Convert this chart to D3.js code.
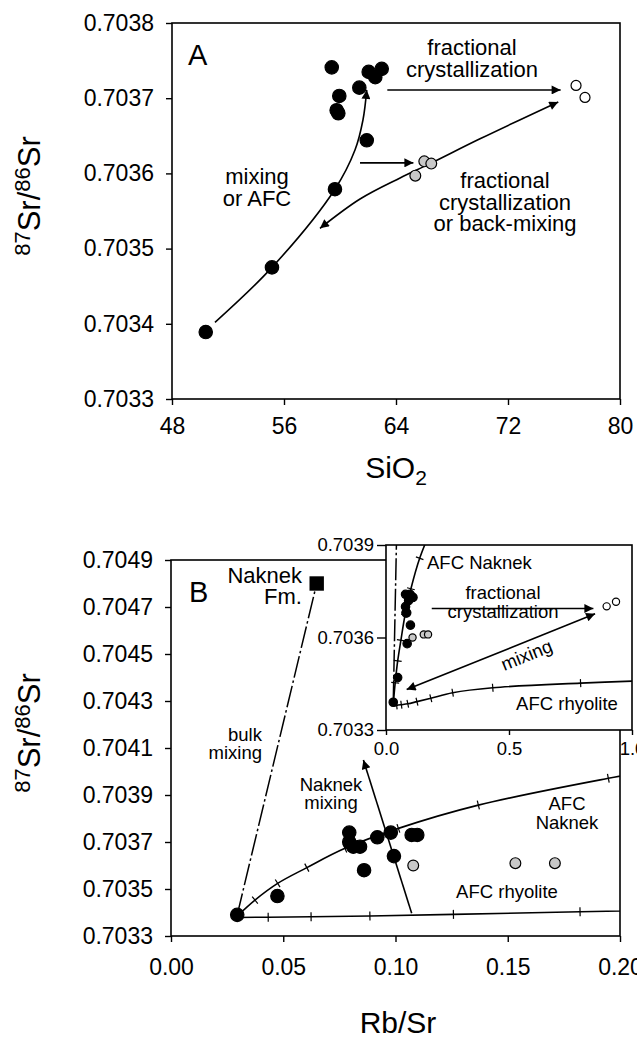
<!DOCTYPE html>
<html>
<head>
<meta charset="utf-8">
<script src="https://cdn.jsdelivr.net/npm/d3@7"></script>
<style>
body { margin: 0; background: #fff; }
svg { font-family: "Liberation Sans", Arial, Helvetica, sans-serif; }
</style>
</head>
<body>
<div class="chart"></div>
<script>
// PANEL A: SiO2 vs 87Sr/86Sr
const aBasalt = [
	[50.41, 0.703389], [55.14, 0.703475], [59.64, 0.703579], [61.91, 0.703644],
	[59.76, 0.703684], [59.88, 0.703680], [59.95, 0.703703], [59.41, 0.703741],
	[61.38, 0.703714], [62.05, 0.703735], [62.52, 0.703728], [62.98, 0.703739]
];
const aDacite = [[65.38, 0.703597], [66.02, 0.703616], [66.52, 0.703613]];
const aRhyolite = [[76.86, 0.703717], [77.50, 0.703701]];
const aMixCurve = [
	[51.07, 0.703402], [55.14, 0.703475], [59.64, 0.703579],
	[61.07, 0.703631], [61.64, 0.703671], [61.91, 0.703711]
];
const aBackCurve = [
	[58.57, 0.703527], [61.43, 0.703566], [64.29, 0.703594],
	[66.43, 0.703613], [70.00, 0.703646], [75.59, 0.703695]
];
const aFcArrow = [[63.38, 0.703711], [75.76, 0.703711]];
const aShortArrow = [[61.43, 0.703614], [65.24, 0.703614]];
const aXTicks = [48, 56, 64, 72, 80];
const aYTicks = [0.7033, 0.7034, 0.7035, 0.7036, 0.7037, 0.7038];

// PANEL B: Rb/Sr vs 87Sr/86Sr
const bBasalt = [
	[0.0295, 0.70339], [0.0474, 0.70347], [0.0794, 0.70374], [0.0794, 0.70370],
	[0.0812, 0.70368], [0.0842, 0.70368], [0.0919, 0.70372], [0.0979, 0.70374],
	[0.0860, 0.70358], [0.0993, 0.70364], [0.1072, 0.70373], [0.1097, 0.70373]
];
const bDacite = [[0.1079, 0.70360], [0.1534, 0.70361], [0.1710, 0.70361]];
const bRhyolite = [[0.897, 0.703701], [0.935, 0.703716]];
const naknekFm = [[0.0649, 0.70480]];
const bulkMixing = [[0.0295, 0.70339], [0.0649, 0.70480]];
const afcNaknek = [
	[0.0295, 0.703385], [0.0374, 0.703453], [0.0475, 0.703524], [0.0605, 0.703591],
	[0.0775, 0.703673], [0.1013, 0.703758], [0.1369, 0.703857], [0.1948, 0.703971],
	[0.2300, 0.704030]
];
const afcRhyolite = [
	[0.0295, 0.703379], [0.0433, 0.703380], [0.0624, 0.703382], [0.0886, 0.703385],
	[0.1258, 0.703392], [0.1822, 0.703403], [0.271, 0.703421], [0.434, 0.703437],
	[0.791, 0.703452], [1.05, 0.703460]
];
const naknekMixing = [[0.1072, 0.703397], [0.0857, 0.704049]];
const insetFcArrow = [[0.186, 0.703694], [0.843, 0.703694]];
const insetMixArrow = [[0.084, 0.703431], [0.850, 0.703677]];
const bXTicks = [0, 0.05, 0.10, 0.15, 0.20];
const bYTicks = [0.7033, 0.7035, 0.7037, 0.7039, 0.7041, 0.7043, 0.7045, 0.7047, 0.7049];
const insetXTicks = [0, 0.5, 1.0];
const insetYTicks = [0.7033, 0.7036, 0.7039];

const W = 637, H = 1038;
const svg = d3.select('.chart')
	.append('svg')
		.attr('width', W)
		.attr('height', H);

svg.append('rect').attr('width', W).attr('height', H).attr('fill', '#fff');

const defs = svg.append('defs');
defs.append('marker')
	.attr('id', 'arrow')
	.attr('viewBox', '0 0 10 10')
	.attr('refX', 10).attr('refY', 5)
	.attr('markerUnits', 'userSpaceOnUse')
	.attr('markerWidth', 13).attr('markerHeight', 9)
	.attr('orient', 'auto-start-reverse')
	.append('path')
		.attr('d', 'M0,0 L10,5 L0,10 z')
		.attr('fill', '#000');

const curve = d3.curveCatmullRom.alpha(0.5);

function frame(g, x0, y0, w, h) {
	g.append('rect')
		.attr('x', x0).attr('y', y0)
		.attr('width', w).attr('height', h)
		.attr('fill', 'none')
		.attr('stroke', '#000')
		.attr('stroke-width', 1.6);
}

function styleAxis(sel, size) {
	sel.select('.domain').remove();
	sel.selectAll('line').attr('stroke', '#000').attr('stroke-width', 1.4);
	sel.selectAll('text')
		.attr('fill', '#000')
		.style('font-size', size + 'px')
		.style('font-family', '"Liberation Sans", Arial, sans-serif');
}

// ticks across a curve, drawn perpendicular at every inner point
function curveTicks(g, pts, x, y, len) {
	for (let i = 1; i < pts.length - 1; i++) {
		const p0 = [x(pts[i - 1][0]), y(pts[i - 1][1])];
		const p1 = [x(pts[i + 1][0]), y(pts[i + 1][1])];
		const c = [x(pts[i][0]), y(pts[i][1])];
		let dx = p1[0] - p0[0], dy = p1[1] - p0[1];
		const n = Math.hypot(dx, dy);
		const nx = -dy / n * len / 2, ny = dx / n * len / 2;
		g.append('line')
			.attr('x1', c[0] - nx).attr('y1', c[1] - ny)
			.attr('x2', c[0] + nx).attr('y2', c[1] + ny)
			.attr('stroke', '#000').attr('stroke-width', 1.2);
	}
}

function drawPath(g, pts, x, y, opts = {}) {
	const line = d3.line().x(d => x(d[0])).y(d => y(d[1])).curve(curve);
	const p = g.append('path')
		.attr('d', line(pts))
		.attr('fill', 'none')
		.attr('stroke', '#000')
		.attr('stroke-width', opts.width || 1.6);
	if (opts.dash) p.attr('stroke-dasharray', opts.dash);
	if (opts.end) p.attr('marker-end', 'url(#arrow)');
	if (opts.start) p.attr('marker-start', 'url(#arrow)');
	return p;
}

function dots(g, data, x, y, r, fill) {
	g.selectAll(null)
		.data(data)
		.enter()
		.append('circle')
			.attr('cx', d => x(d[0]))
			.attr('cy', d => y(d[1]))
			.attr('r', r)
			.attr('fill', fill)
			.attr('stroke', '#000')
			.attr('stroke-width', 1.2);
}

// one <text> per line so the lines do not share a box
function label(g, lines, x, yBase, size, anchor = 'middle', step) {
	lines.forEach((s, i) => {
		g.append('text')
			.attr('x', x)
			.attr('y', yBase + i * (step || size))
			.attr('text-anchor', anchor)
			.style('font-size', size + 'px')
			.attr('fill', '#000')
			.text(s);
	});
}

function srTitle(x, cy) {
	const t = svg.append('text')
		.attr('transform', `translate(${x},${cy}) rotate(-90)`)
		.attr('text-anchor', 'middle')
		.attr('fill', '#000')
		.style('font-size', '31px');
	t.append('tspan').text('87').style('font-size', '22px').attr('dy', -10);
	t.append('tspan').text('Sr/').attr('dy', 10);
	t.append('tspan').text('86').style('font-size', '22px').attr('dy', -10);
	t.append('tspan').text('Sr').attr('dy', 10);
}

// ---------------- PANEL A ----------------
const A = { left: 172, right: 620, top: 23, bottom: 399 };
const xA = d3.scaleLinear().domain([48, 80]).range([A.left, A.right]);
const yA = d3.scaleLinear().domain([0.7033, 0.7038]).range([A.bottom, A.top]);
const gA = svg.append('g');

gA.append('g')
	.attr('transform', `translate(${A.left},0)`)
	.call(d3.axisLeft(yA).tickValues(aYTicks).tickFormat(d3.format('.4f')).tickSizeOuter(0).tickSize(6).tickPadding(12))
	.call(s => styleAxis(s, 23));
gA.append('g')
	.attr('transform', `translate(0,${A.bottom})`)
	.call(d3.axisBottom(xA).tickValues(aXTicks).tickFormat(d3.format('d')).tickSizeOuter(0).tickSize(6).tickPadding(13))
	.call(s => styleAxis(s, 23));
frame(gA, A.left, A.top, A.right - A.left, A.bottom - A.top);

drawPath(gA, aMixCurve, xA, yA, { end: true });
drawPath(gA, aBackCurve, xA, yA, { end: true, start: true });
drawPath(gA, aFcArrow, xA, yA, { end: true });
drawPath(gA, aShortArrow, xA, yA, { end: true });

dots(gA, aBasalt, xA, yA, 6.7, '#000');
dots(gA, aDacite, xA, yA, 5.4, '#c8c8c8');
dots(gA, aRhyolite, xA, yA, 5, '#fff');

label(gA, ['A'], 188, 65, 29, 'start');
label(gA, ['fractional', 'crystallization'], 472, 55, 22, 'middle', 22);
label(gA, ['mixing', 'or AFC'], 257, 184, 22, 'middle', 22);
label(gA, ['fractional', 'crystallization', 'or back-mixing'], 505, 188, 22, 'middle', 21.5);

const sio2 = svg.append('text')
	.attr('x', 396).attr('y', 478)
	.attr('text-anchor', 'middle')
	.style('font-size', '30px');
sio2.append('tspan').text('SiO');
sio2.append('tspan').text('2').style('font-size', '21px').attr('dy', 7);
srTitle(40, 196);

// ---------------- PANEL B ----------------
const B = { left: 171, right: 620, top: 560, bottom: 936 };
const xB = d3.scaleLinear().domain([0, 0.2]).range([B.left, B.right]);
const yB = d3.scaleLinear().domain([0.7033, 0.7049]).range([B.bottom, B.top]);
const gB = svg.append('g');

defs.append('clipPath').attr('id', 'clipB')
	.append('rect').attr('x', B.left).attr('y', B.top).attr('width', B.right - B.left).attr('height', B.bottom - B.top);

gB.append('g')
	.attr('transform', `translate(${B.left},0)`)
	.call(d3.axisLeft(yB).tickValues(bYTicks).tickFormat(d3.format('.4f')).tickSizeOuter(0).tickSize(6).tickPadding(12))
	.call(s => styleAxis(s, 23));
gB.append('g')
	.attr('transform', `translate(0,${B.bottom})`)
	.call(d3.axisBottom(xB).tickValues(bXTicks).tickFormat(d3.format('.2f')).tickSizeOuter(0).tickSize(6).tickPadding(17))
	.call(s => styleAxis(s, 23));
frame(gB, B.left, B.top, B.right - B.left, B.bottom - B.top);

const gBc = gB.append('g').attr('clip-path', 'url(#clipB)');
drawPath(gBc, bulkMixing, xB, yB, { dash: '22,3,2.5,3', width: 1.5 });
drawPath(gBc, afcNaknek, xB, yB);
curveTicks(gBc, afcNaknek, xB, yB, 9);
drawPath(gBc, afcRhyolite, xB, yB);
curveTicks(gBc, afcRhyolite, xB, yB, 9);
drawPath(gB, naknekMixing, xB, yB, { end: true });

dots(gB, bBasalt, xB, yB, 6.7, '#000');
dots(gB, bDacite, xB, yB, 5.4, '#c8c8c8');
gB.selectAll(null)
	.data(naknekFm)
	.enter()
	.append('rect')
		.attr('x', d => xB(d[0]) - 7.2)
		.attr('y', d => yB(d[1]) - 7.2)
		.attr('width', 14.4).attr('height', 14.4)
		.attr('fill', '#000');

label(gB, ['B'], 189, 602, 29, 'start');
label(gB, ['Naknek', 'Fm.'], 302, 583, 22, 'end', 20.5);
label(gB, ['bulk', 'mixing'], 262, 741, 18.5, 'end', 17.5);
label(gB, ['Naknek', 'mixing'], 331, 791, 18.5, 'middle', 18);
label(gB, ['AFC', 'Naknek'], 567, 810, 18.5, 'middle', 18.5);
label(gB, ['AFC rhyolite'], 507, 898, 18.5, 'middle');

svg.append('text')
	.attr('x', 398).attr('y', 1033)
	.attr('text-anchor', 'middle')
	.style('font-size', '30px')
	.text('Rb/Sr');
srTitle(40, 733);

// ---------------- INSET ----------------
const I = { left: 386, right: 632, top: 545, bottom: 730 };
const xI = d3.scaleLinear().domain([0, 1]).range([I.left, I.right]);
const yI = d3.scaleLinear().domain([0.7033, 0.7039]).range([I.bottom, I.top]);
const gI = svg.append('g');

defs.append('clipPath').attr('id', 'clipI')
	.append('rect').attr('x', I.left).attr('y', I.top).attr('width', I.right - I.left).attr('height', I.bottom - I.top);

gI.append('rect')
	.attr('x', I.left).attr('y', I.top)
	.attr('width', I.right - I.left).attr('height', I.bottom - I.top)
	.attr('fill', '#fff');

gI.append('g')
	.attr('transform', `translate(${I.left},0)`)
	.call(d3.axisLeft(yI).tickValues(insetYTicks).tickFormat(d3.format('.4f')).tickSizeOuter(0).tickSize(9).tickPadding(3))
	.call(s => styleAxis(s, 18.5));
gI.append('g')
	.attr('transform', `translate(0,${I.bottom})`)
	.call(d3.axisBottom(xI).tickValues(insetXTicks).tickFormat(d3.format('.1f')).tickSizeOuter(0).tickSize(5).tickPadding(7))
	.call(s => styleAxis(s, 18.5));

const gIc = gI.append('g').attr('clip-path', 'url(#clipI)');
drawPath(gIc, bulkMixing, xI, yI, { dash: '22,3,2.5,3', width: 1.5 });
drawPath(gIc, afcNaknek, xI, yI);
curveTicks(gIc, afcNaknek, xI, yI, 8);
drawPath(gIc, afcRhyolite, xI, yI);
curveTicks(gIc, afcRhyolite, xI, yI, 8);
drawPath(gIc, insetFcArrow, xI, yI, { end: true });
drawPath(gIc, insetMixArrow, xI, yI, { end: true, start: true });

dots(gIc, bBasalt, xI, yI, 4.2, '#000');
dots(gIc, bDacite, xI, yI, 3.6, '#c8c8c8');
dots(gIc, bRhyolite, xI, yI, 3.6, '#fff');

frame(gI, I.left, I.top, I.right - I.left, I.bottom - I.top);

label(gI, ['AFC Naknek'], 427, 569, 18.5, 'start');
label(gI, ['fractional', 'crystallization'], 503, 599, 18.5, 'middle', 18.5);
label(gI, ['AFC rhyolite'], 567, 710, 18.5, 'middle');
gI.append('text')
	.attr('transform', `translate(529,661) rotate(-22)`)
	.attr('text-anchor', 'middle')
	.style('font-size', '18.5px')
	.text('mixing');
</script>
</body>
</html>
